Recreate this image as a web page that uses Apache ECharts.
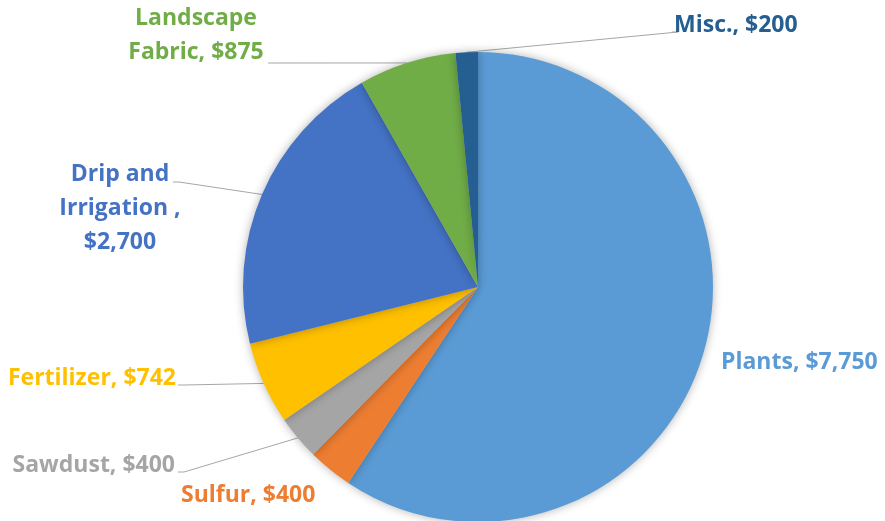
<!DOCTYPE html>
<html>
<head>
<meta charset="utf-8">
<script src="https://cdn.jsdelivr.net/npm/echarts@6/dist/echarts.min.js"></script>
<style>
  html, body { margin: 0; padding: 0; background: #fff; }
  #chart { width: 885px; height: 521px; }
</style>
</head>
<body>
<div id="chart"></div>
<script>
// landscaping costs, clockwise from 12 o'clock
const categories = ['Plants', 'Sulfur', 'Sawdust', 'Fertilizer', 'Drip and Irrigation ', 'Landscape Fabric', 'Misc.'];
const costs = [7750, 400, 400, 742, 2700, 875, 200];
const labelTexts = ['Plants, $7,750', 'Sulfur, $400', 'Sawdust, $400', 'Fertilizer, $742', 'Drip and\nIrrigation ,\n$2,700', 'Landscape\nFabric, $875', 'Misc., $200'];
const colors = ['#5B9BD5', '#ED7D31', '#A5A5A5', '#FFC000', '#4472C4', '#70AD47', '#255E91'];

// label anchors + where the leader line stops (null = no leader)
const labelSpots = [
  { x: 721, y: 362, align: 'left', end: null },
  { x: 181, y: 495, align: 'left', end: null },
  { x: 175, y: 465, align: 'right', end: [178, 472] },
  { x: 176, y: 378, align: 'right', end: [178, 385] },
  { x: 120, y: 208, align: 'center', end: [173, 182] },
  { x: 196, y: 35, align: 'center', end: [268, 63] },
  { x: 674, y: 25, align: 'left', end: [672, 32] }
];

const chart = echarts.init(document.getElementById('chart'));

chart.setOption({
  animation: false,
  series: [{
    type: 'pie',
    center: [478, 287],
    radius: 235,
    startAngle: 90,
    clockwise: true,
    avoidLabelOverlap: false,
    emphasis: { scale: false },
    itemStyle: { shadowBlur: 10, shadowColor: 'rgba(0,0,0,0.3)' },
    label: {
      show: true,
      position: 'outside',
      fontFamily: 'Open Sans',
      fontWeight: 'bold',
      fontSize: 23,
      lineHeight: 34
    },
    labelLine: { show: true, lineStyle: { color: '#A6A6A6', width: 1 } },
    labelLayout: (p) => {
      const s = labelSpots[p.dataIndex];
      const out = { x: s.x, y: s.y, align: s.align, verticalAlign: 'middle' };
      if (s.end && p.labelLinePoints) {
        const edge = p.labelLinePoints[0];
        out.labelLinePoints = [edge, [s.end[0] + 6, s.end[1]], s.end];
      }
      return out;
    },
    data: categories.map((name, i) => ({
      name,
      value: costs[i],
      itemStyle: { color: colors[i] },
      label: { formatter: labelTexts[i], color: colors[i] },
      labelLine: { show: labelSpots[i].end !== null }
    }))
  }]
});
</script>
</body>
</html>
